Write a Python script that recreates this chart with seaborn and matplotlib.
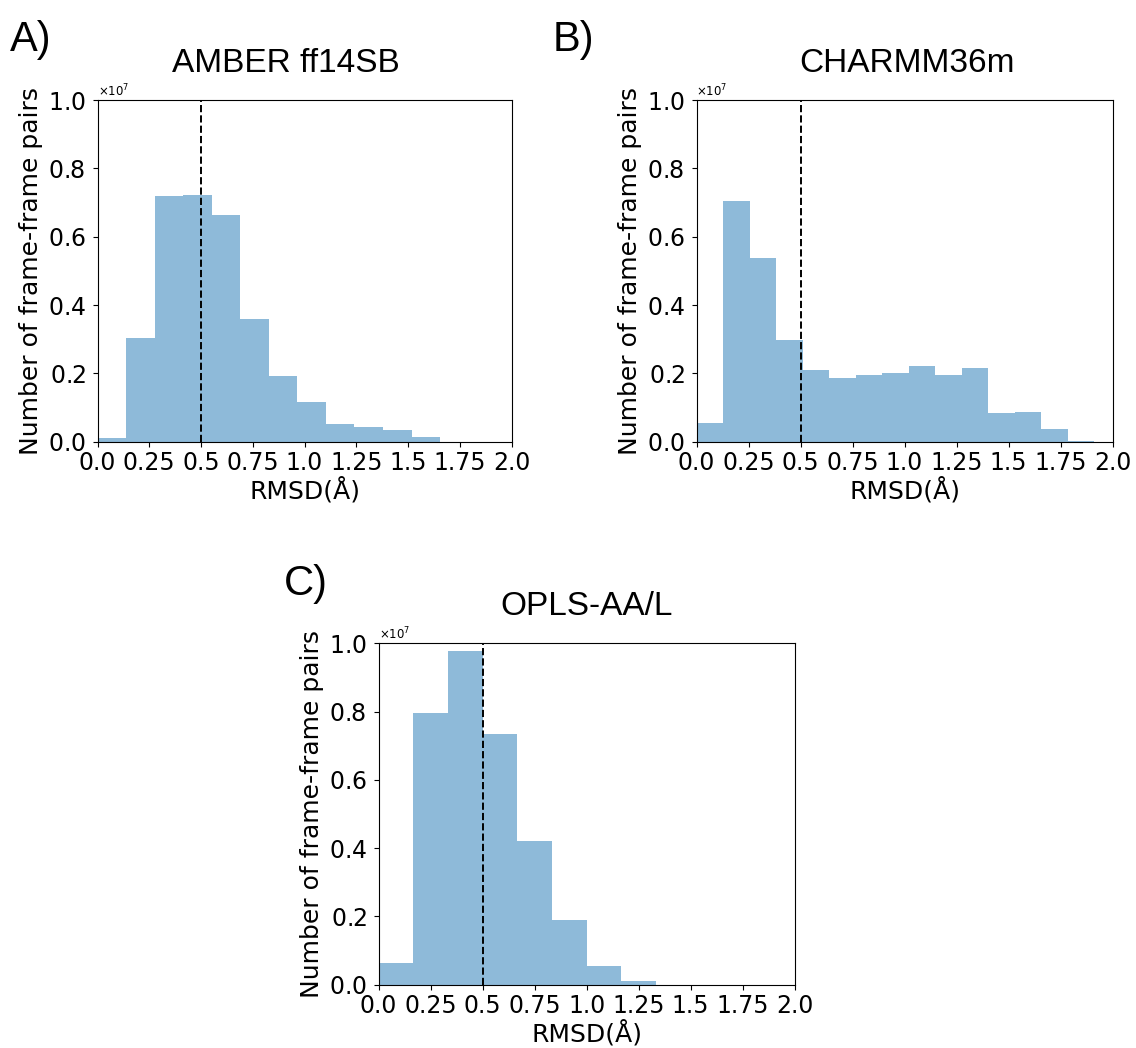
import numpy as np
import pandas as pd
import matplotlib
matplotlib.use("Agg")
import matplotlib.pyplot as plt
from matplotlib.ticker import ScalarFormatter
import seaborn as sns

# ---- data (counts in units of 1e7 frame-frame pairs) ----
amber_max = 1.655
amber_counts = [0.010, 0.303, 0.720, 0.722, 0.662, 0.359, 0.193, 0.115, 0.051, 0.043, 0.033, 0.015]

charmm_max = 1.912
charmm_counts = [0.054, 0.705, 0.537, 0.298, 0.209, 0.187, 0.195, 0.202, 0.223, 0.196, 0.215,
                 0.083, 0.088, 0.036, 0.002]

opls_max = 1.334
opls_counts = [0.064, 0.796, 0.977, 0.735, 0.420, 0.189, 0.053, 0.010]

titles = ["AMBER ff14SB", "CHARMM36m", "OPLS-AA/L"]
letters = ["A)", "B)", "C)"]
xtick_vals = [0.0, 0.25, 0.5, 0.75, 1.0, 1.25, 1.5, 1.75, 2.0]
xtick_labels = ["0.0", "0.25", "0.5", "0.75", "1.0", "1.25", "1.5", "1.75", "2.0"]
ytick_vals = [0.0, 0.2e7, 0.4e7, 0.6e7, 0.8e7, 1.0e7]
cutoff = 0.5
scale = 1e7

W, H = 1136, 1048
fig = plt.figure(figsize=(W / 100, H / 100), dpi=100)

def px_axes(left, top, right, bottom):
    return fig.add_axes([left / W, 1 - bottom / H, (right - left) / W, (bottom - top) / H])

ax_a = px_axes(97.5, 100, 511.5, 441.7)
ax_b = px_axes(696.5, 100, 1112.5, 441.7)
ax_c = px_axes(378.6, 643.3, 794.6, 984.5)

datasets = [(ax_a, amber_max, amber_counts), (ax_b, charmm_max, charmm_counts), (ax_c, opls_max, opls_counts)]

for ax, xmax, counts in datasets:
    n = len(counts)
    edges = [float(v) for v in np.linspace(0, xmax, n + 1)]
    centers = [(edges[i] + edges[i + 1]) / 2 for i in range(n)]
    df = pd.DataFrame({"rmsd": centers, "count": [c * scale for c in counts]})
    sns.histplot(data=df, x="rmsd", weights="count", bins=edges, ax=ax,
                 color="#1f77b4", alpha=0.5, edgecolor="none", linewidth=0)
    ax.axvline(cutoff, color="black", linestyle="--", linewidth=1.4)
    ax.set_xlim(0, 2.0)
    ax.set_ylim(0, 1.0e7)
    ax.set_xticks(xtick_vals)
    ax.set_xticklabels(xtick_labels)
    ax.set_yticks(ytick_vals)
    fmt = ScalarFormatter(useMathText=True)
    ax.yaxis.set_major_formatter(fmt)
    ax.tick_params(labelsize=17)
    ax.tick_params(axis="y", pad=5)
    ax.yaxis.get_offset_text().set_fontsize(8.5)
    ax.set_xlabel("RMSD(Å)", fontsize=18, labelpad=1)
    ax.set_ylabel("Number of frame-frame pairs", fontsize=18, labelpad=3)

title_font = "Liberation Sans"
fig.text(286 / W, 1 - 72 / H, titles[0], ha="center", va="baseline", fontsize=24, family=title_font)
fig.text(907 / W, 1 - 72 / H, titles[1], ha="center", va="baseline", fontsize=24, family=title_font)
fig.text(587 / W, 1 - 615 / H, titles[2], ha="center", va="baseline", fontsize=24, family=title_font)

fig.text(10 / W, 1 - 51 / H, letters[0], ha="left", va="baseline", fontsize=30, family=title_font)
fig.text(553 / W, 1 - 51 / H, letters[1], ha="left", va="baseline", fontsize=30, family=title_font)
fig.text(284 / W, 1 - 595 / H, letters[2], ha="left", va="baseline", fontsize=30, family=title_font)

fig.savefig("out.png", dpi=100)
